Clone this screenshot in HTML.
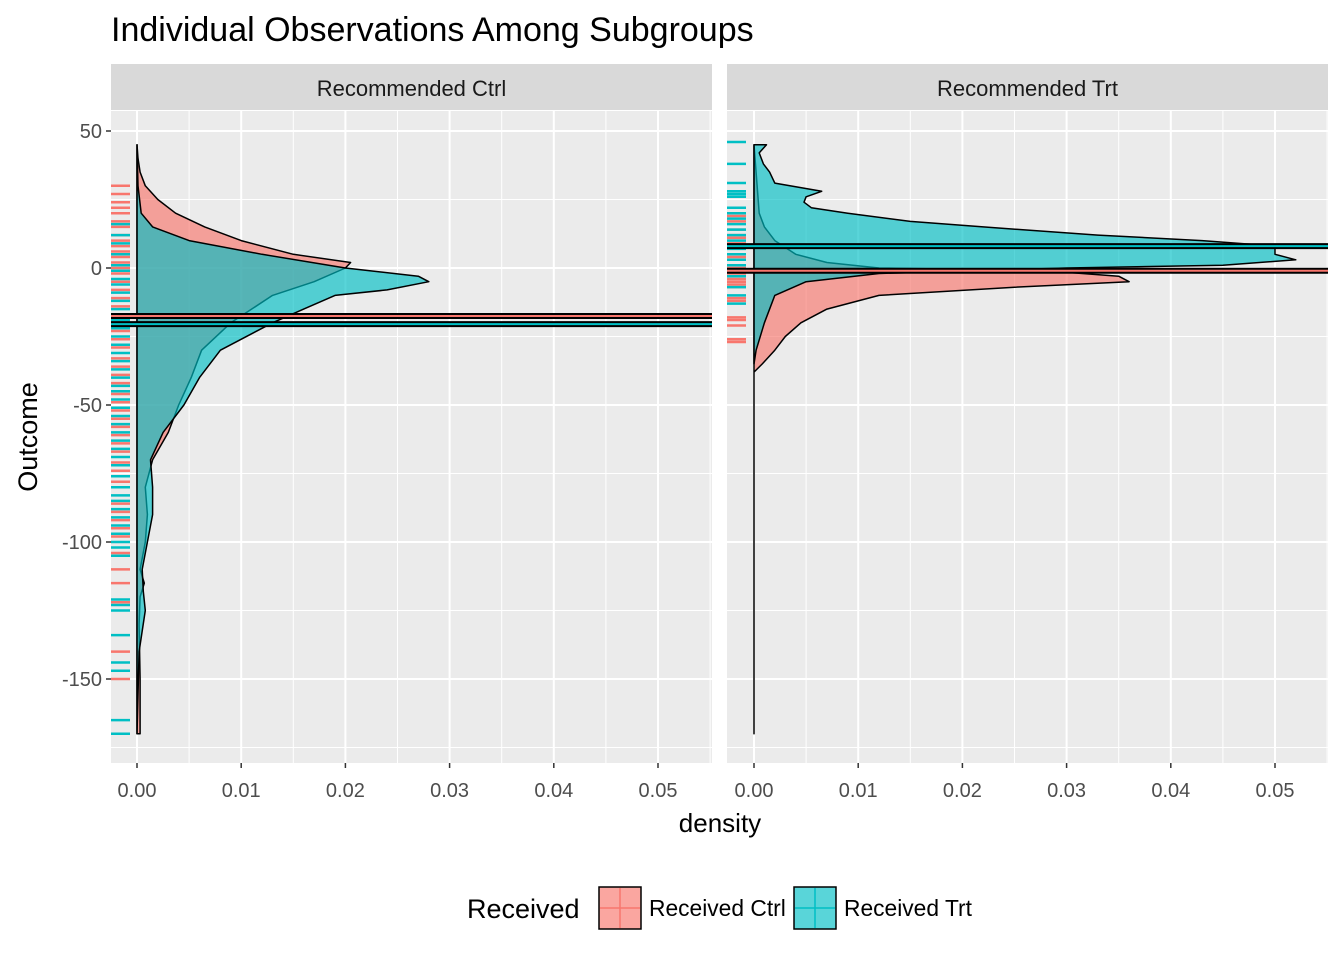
<!DOCTYPE html>
<html><head><meta charset="utf-8"><style>
body{margin:0;background:#fff;}
svg{display:block;font-family:"Liberation Sans",Arial,sans-serif;}
</style></head><body>
<svg id="chart" width="1344" height="960" viewBox="0 0 1344 960" xmlns="http://www.w3.org/2000/svg">
<text x="111" y="41" font-size="34" fill="#000">Individual Observations Among Subgroups</text>
<g id="panels"></g>
<text x="720" y="832" font-size="26" text-anchor="middle" fill="#000">density</text>
<text transform="translate(37,437) rotate(-90)" font-size="27" text-anchor="middle" fill="#000">Outcome</text>
<g>
<text x="467" y="918" font-size="27">Received</text>
<g>
<rect x="599" y="887" width="42" height="42" fill="#F8766D" fill-opacity="0.65" stroke="#000" stroke-width="1.5"/>
<line x1="620" y1="888" x2="620" y2="928" stroke="#F8766D" stroke-width="1.5"/>
<line x1="600" y1="908" x2="640" y2="908" stroke="#F8766D" stroke-width="1.5"/>
<text x="649" y="916" font-size="22.8">Received Ctrl</text></g>
<g>
<rect x="794" y="887" width="42" height="42" fill="#00BFC4" fill-opacity="0.65" stroke="#000" stroke-width="1.5"/>
<line x1="815" y1="888" x2="815" y2="928" stroke="#00BFC4" stroke-width="1.5"/>
<line x1="795" y1="908" x2="835" y2="908" stroke="#00BFC4" stroke-width="1.5"/>
<text x="844" y="916" font-size="22.8">Received Trt</text></g>
</g>
</svg>
<script>
const xTicks=[0,0.01,0.02,0.03,0.04,0.05];
const xTickLabels=["0.00","0.01","0.02","0.03","0.04","0.05"];
const yTicks=[50,0,-50,-100,-150];
const yTickLabels=["50","0","-50","-100","-150"];
const facetNames=["Recommended Ctrl","Recommended Trt"];
const leftCtrlY=[45,40,35,30,25,20,15,10,5,2,0,-5,-10,-20,-30,-40,-50,-60,-70,-80,-90,-100,-110,-115,-120,-130,-150,-170];
const leftCtrlD=[0,0.0001,0.0003,0.0008,0.002,0.0037,0.0065,0.010,0.015,0.0205,0.020,0.017,0.013,0.009,0.0062,0.0052,0.004,0.003,0.0015,0.0008,0.001,0.0008,0.0003,0.0007,0.0003,0.0002,0.0003,0.0003];
const leftTrtY=[45,30,20,15,10,5,0,-3,-5,-8,-10,-15,-20,-30,-40,-50,-60,-70,-80,-90,-100,-110,-118,-125,-140,-170];
const leftTrtD=[0,0.0001,0.0004,0.0015,0.005,0.012,0.020,0.027,0.028,0.024,0.019,0.016,0.013,0.008,0.006,0.0045,0.0025,0.0013,0.0015,0.0015,0.001,0.0005,0.0006,0.0008,0.0002,0];
const rightCtrlY=[45,20,15,10,5,2,0,-1,-3,-5,-7,-10,-15,-20,-25,-30,-35,-38,-60,-170];
const rightCtrlD=[0,0.0005,0.001,0.002,0.004,0.007,0.012,0.028,0.035,0.036,0.025,0.012,0.007,0.0045,0.003,0.002,0.0008,0,0,0];
const rightTrtY=[45,42,38,35,31,28,26,24,22,20,17,15,12,10,8,5,3,1,0,-2,-5,-10,-20,-30,-35];
const rightTrtD=[0.0012,0.0005,0.0009,0.0015,0.002,0.0065,0.005,0.0048,0.0055,0.009,0.015,0.022,0.033,0.043,0.050,0.050,0.052,0.045,0.030,0.012,0.005,0.002,0.001,0.0002,0];
const leftMeans=[-17.5,-20.5];
const rightMeans=[-1,8];
const leftRugCtrl=[30,27,24,22,20,17,15,12,10,8,6,4,2,0,-2,-5,-8,-11,-14,-17,-20,-23,-26,-29,-33,-36,-39,-42,-46,-49,-52,-55,-58,-61,-64,-67,-71,-74,-78,-86,-89,-92,-95,-98,-104,-110,-115,-122,-140,-150];
const leftRugTrt=[16,12,9,5,1,-1,-4,-6,-9,-12,-15,-19,-22,-25,-28,-31,-34,-37,-40,-43,-45,-48,-51,-54,-57,-60,-63,-66,-69,-72,-76,-80,-83,-85,-88,-91,-94,-97,-100,-102,-105,-121,-123,-125,-134,-144,-147,-165,-170];
const rightRugCtrl=[19,17,14,12,11,9,4,0,-2,-4,-5,-6,-7,-11,-12,-18,-19,-21,-26,-27];
const rightRugTrt=[46,38,31,28,27,26,22,20,18,16,14,12,10,8,7,5,3,1,-3,-7,-10,-13];

const RED="#F8766D",TEAL="#00BFC4";
const NS="http://www.w3.org/2000/svg";
const pTop=111,pBottom=763;
const yS=v=>268-(v)*2.74;
function mk(tag,attrs,parent){const e=document.createElementNS(NS,tag);for(const k in attrs)e.setAttribute(k,attrs[k]);parent.appendChild(e);return e;}
const root=document.getElementById('panels');
const panels=[
 {x0:111,x1:712,z:137,curves:[[leftCtrlY,leftCtrlD,RED],[leftTrtY,leftTrtD,TEAL]],means:[[leftMeans[0],RED],[leftMeans[1],TEAL]],rug:[[leftRugCtrl,RED],[leftRugTrt,TEAL]]},
 {x0:727,x1:1328,z:754,curves:[[rightCtrlY,rightCtrlD,RED],[rightTrtY,rightTrtD,TEAL]],means:[[rightMeans[0],RED],[rightMeans[1],TEAL]],rug:[[rightRugCtrl,RED],[rightRugTrt,TEAL]]}
];
panels.forEach((p,i)=>{
 const xS=d=>p.z+d*10420;
 const g=mk('g',{},root);
 
 
 const bg=mk('rect',{x:p.x0,y:pTop,width:p.x1-p.x0,height:pBottom-pTop,fill:'#EBEBEB'},g);
 
 
 const strip=mk('rect',{x:p.x0,y:64,width:p.x1-p.x0,height:46,fill:'#D9D9D9'},g);
 
 
 const st=mk('text',{x:(p.x0+p.x1)/2,y:96,'font-size':22,'text-anchor':'middle',fill:'#1A1A1A'},g);
 st.textContent=facetNames[i];
 
 
 for(let k=0;k<xTicks.length;k++){const xm=xS(xTicks[k]+0.005);if(xm<p.x1)mk('line',{x1:xm,x2:xm,y1:pTop,y2:pBottom,stroke:'#fff','stroke-width':1},g);}
 [75,25,-25,-75,-125,-175].forEach(v=>{const y=yS(v);if(y>pTop&&y<pBottom)mk('line',{x1:p.x0,x2:p.x1,y1:y,y2:y,stroke:'#fff','stroke-width':1},g);});
 xTicks.forEach(t=>mk('line',{x1:xS(t),x2:xS(t),y1:pTop,y2:pBottom,stroke:'#fff','stroke-width':2},g));
 yTicks.forEach(t=>mk('line',{x1:p.x0,x2:p.x1,y1:yS(t),y2:yS(t),stroke:'#fff','stroke-width':2},g));
 p.rug.forEach(([vals,col])=>vals.forEach(v=>{
  const r=mk('line',{x1:p.x0,x2:p.x0+19,y1:yS(v),y2:yS(v),stroke:col,'stroke-width':2.5},g);
  
  
 }));
 p.curves.forEach(([ys,ds,col])=>{
  let d='M'+xS(0)+','+yS(ys[0]);
  ys.forEach((y,k)=>{d+=' L'+xS(ds[k]).toFixed(1)+','+yS(y).toFixed(1);});
  d+=' L'+xS(0)+','+yS(ys[ys.length-1])+' Z';
  const pa=mk('path',{d:d,fill:col,'fill-opacity':0.65,stroke:'#000','stroke-width':1.5,'stroke-linejoin':'round'},g);
  
  
 });
 p.means.forEach(([v,col])=>{
  mk('line',{x1:p.x0,x2:p.x1,y1:yS(v),y2:yS(v),stroke:'#000','stroke-width':6},g);
  const m=mk('line',{x1:p.x0,x2:p.x1,y1:yS(v),y2:yS(v),stroke:col,'stroke-width':2},g);
  
  
 });
 xTicks.forEach((t,k)=>{
  mk('line',{x1:xS(t),x2:xS(t),y1:pBottom,y2:pBottom+5,stroke:'#333','stroke-width':1.5},g);
  const tx=mk('text',{x:xS(t),y:797,'font-size':20,'text-anchor':'middle',fill:'#4D4D4D'},g);
  tx.textContent=xTickLabels[k];
  
  
 });
 if(i===0){
  yTicks.forEach((t,k)=>{
   mk('line',{x1:p.x0-5,x2:p.x0,y1:yS(t),y2:yS(t),stroke:'#333','stroke-width':1.5},g);
   const ty=mk('text',{x:p.x0-9,y:yS(t)+7,'font-size':20,'text-anchor':'end',fill:'#4D4D4D'},g);
   ty.textContent=yTickLabels[k];
   
   
  });
 }
});
</script>
</body></html>
